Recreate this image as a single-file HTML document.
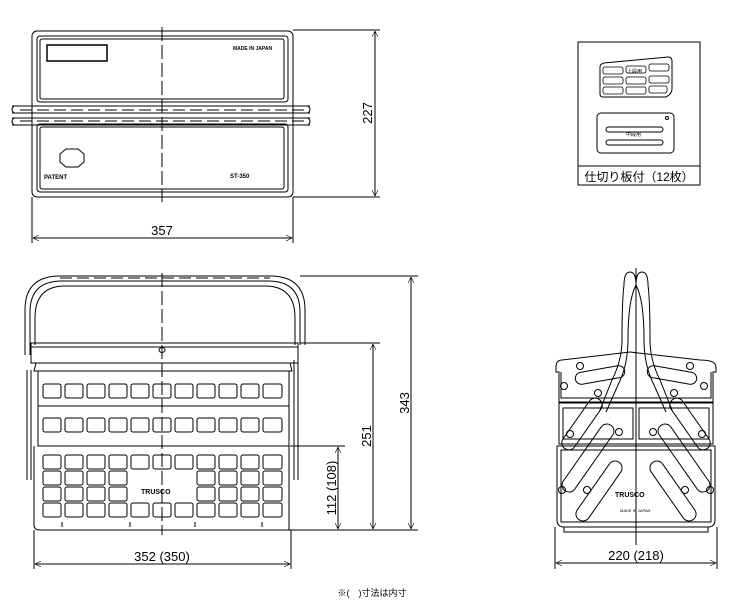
<!DOCTYPE html>
<html><head><meta charset="utf-8"><style>
html,body{margin:0;padding:0;background:#fff;}
svg{display:block;}
text{font-family:"Liberation Sans","Noto Sans CJK JP",sans-serif;fill:#000;}
</style></head><body>
<svg width="748" height="608" viewBox="0 0 748 608" xmlns="http://www.w3.org/2000/svg">
<defs>
<marker id="a" viewBox="0 0 10 10" refX="10" refY="5" markerWidth="10" markerHeight="6" orient="auto-start-reverse" markerUnits="userSpaceOnUse"><path d="M0,0 L10,5 L0,10" fill="none" stroke="#000" stroke-width="1"/></marker>
</defs>
<g fill="none" stroke="#000" stroke-width="1">
<!-- TOP VIEW -->
<rect x="32" y="31" width="261" height="166" rx="5"/>
<rect x="37" y="36" width="251" height="66" rx="3"/>
<rect x="40" y="39" width="244" height="60" rx="2"/>
<rect x="47" y="45" width="60" height="16" stroke-width="1.5"/>
<rect x="37" y="124" width="251" height="68" rx="3"/>
<rect x="40" y="127" width="244" height="62" rx="2"/>
<path d="M12,106 H310 M12,113 H310 M12,118 H310 M12,125 H310"/>
<path d="M14,106 Q10,109.5 14,113 M14,118 Q10,121.5 14,125 M308,106 Q312,109.5 308,113 M308,118 Q312,121.5 308,125"/>
<path d="M20,110 H304 M20,121 H304" stroke-dasharray="12,5"/>
<path d="M60,154 l6,-5 h12 l6,5 v8 l-6,5 h-12 l-6,-5z"/>
<path d="M162,27 V202" stroke-dasharray="14,4"/>
<path d="M293,30 H380 M293,197 H380"/>
<line x1="375" y1="31" x2="375" y2="196" marker-start="url(#a)" marker-end="url(#a)"/>
<path d="M32,197 V243 M293,197 V243"/>
<line x1="33" y1="238" x2="292" y2="238" marker-start="url(#a)" marker-end="url(#a)"/>

<!-- INSET -->
<rect x="578" y="42" width="122" height="143"/>
<line x1="578" y1="166" x2="700" y2="166"/>
<path d="M600,67 Q600,64 604,63 L668,57 Q672,57 672,61 V89 Q672,94 666,97 H603 Q600,97 600,94Z"/>
<g stroke-width="0.8">
<rect x="603" y="67" width="20" height="7" rx="2"/><rect x="626" y="66" width="20" height="7" rx="2"/><rect x="649" y="64" width="20" height="7" rx="2"/>
<rect x="603" y="77" width="20" height="7" rx="2"/><rect x="626" y="77" width="20" height="7" rx="2"/><rect x="649" y="76" width="20" height="7" rx="2"/>
<rect x="603" y="87" width="20" height="7" rx="2"/><rect x="626" y="87" width="20" height="7" rx="2"/><rect x="649" y="86" width="18" height="7" rx="2"/>
</g>
<rect x="597" y="113" width="77" height="40" rx="4"/>
<rect x="606" y="127" width="57" height="5" rx="2.5"/>
<rect x="606" y="140" width="57" height="5" rx="2.5"/>
<circle cx="667" cy="118" r="1.5"/>

<!-- FRONT VIEW -->
<path d="M25,355 V310 Q25,276 60,276 H270 Q305,276 305,310 V345"/>
<path d="M30,355 V312 Q30,281 62,281 H268 Q300,281 300,312 V345"/>
<path d="M35,345 V318 Q35,286 65,286 H265 Q295,286 295,318 V345"/>
<path d="M60,278 H270" stroke-dasharray="12,5"/>
<rect x="31" y="343" width="267" height="20"/>
<path d="M31,347 H298"/>
<path d="M36,363 L34,371 H292 L290,363"/>
<rect x="38" y="371" width="251" height="35"/>
<rect x="38" y="406" width="251" height="40"/>
<path d="M34,446 V525 Q34,530 40,530 H289 V446"/>
<path d="M27,370 V480 M31,370 V480 M294,360 V480 M298,360 V480"/>
<g stroke-width="1">
<rect x="43" y="384" width="18" height="14" rx="2"/><rect x="65" y="384" width="18" height="14" rx="2"/><rect x="87" y="384" width="18" height="14" rx="2"/><rect x="109" y="384" width="18" height="14" rx="2"/><rect x="131" y="384" width="18" height="14" rx="2"/><rect x="153" y="384" width="18" height="14" rx="2"/><rect x="175" y="384" width="18" height="14" rx="2"/><rect x="197" y="384" width="18" height="14" rx="2"/><rect x="219" y="384" width="18" height="14" rx="2"/><rect x="241" y="384" width="18" height="14" rx="2"/><rect x="263" y="384" width="19" height="14" rx="2"/>
<rect x="43" y="418" width="18" height="14" rx="2"/><rect x="65" y="418" width="18" height="14" rx="2"/><rect x="87" y="418" width="18" height="14" rx="2"/><rect x="109" y="418" width="18" height="14" rx="2"/><rect x="131" y="418" width="18" height="14" rx="2"/><rect x="153" y="418" width="18" height="14" rx="2"/><rect x="175" y="418" width="18" height="14" rx="2"/><rect x="197" y="418" width="18" height="14" rx="2"/><rect x="219" y="418" width="18" height="14" rx="2"/><rect x="241" y="418" width="18" height="14" rx="2"/><rect x="263" y="418" width="19" height="14" rx="2"/>
<rect x="43" y="455" width="18" height="14" rx="2"/><rect x="65" y="455" width="18" height="14" rx="2"/><rect x="87" y="455" width="18" height="14" rx="2"/><rect x="109" y="455" width="18" height="14" rx="2"/><rect x="131" y="455" width="18" height="14" rx="2"/><rect x="153" y="455" width="18" height="14" rx="2"/><rect x="175" y="455" width="18" height="14" rx="2"/><rect x="197" y="455" width="18" height="14" rx="2"/><rect x="219" y="455" width="18" height="14" rx="2"/><rect x="241" y="455" width="18" height="14" rx="2"/><rect x="263" y="455" width="19" height="14" rx="2"/>
<rect x="43" y="471" width="18" height="14" rx="2"/><rect x="65" y="471" width="18" height="14" rx="2"/><rect x="87" y="471" width="18" height="14" rx="2"/><rect x="109" y="471" width="18" height="14" rx="2"/><rect x="197" y="471" width="18" height="14" rx="2"/><rect x="219" y="471" width="18" height="14" rx="2"/><rect x="241" y="471" width="18" height="14" rx="2"/><rect x="263" y="471" width="19" height="14" rx="2"/>
<rect x="43" y="487" width="18" height="14" rx="2"/><rect x="65" y="487" width="18" height="14" rx="2"/><rect x="87" y="487" width="18" height="14" rx="2"/><rect x="109" y="487" width="18" height="14" rx="2"/><rect x="197" y="487" width="18" height="14" rx="2"/><rect x="219" y="487" width="18" height="14" rx="2"/><rect x="241" y="487" width="18" height="14" rx="2"/><rect x="263" y="487" width="19" height="14" rx="2"/>
<rect x="43" y="503" width="18" height="14" rx="2"/><rect x="65" y="503" width="18" height="14" rx="2"/><rect x="87" y="503" width="18" height="14" rx="2"/><rect x="109" y="503" width="18" height="14" rx="2"/><rect x="131" y="503" width="18" height="14" rx="2"/><rect x="153" y="503" width="18" height="14" rx="2"/><rect x="175" y="503" width="18" height="14" rx="2"/><rect x="197" y="503" width="18" height="14" rx="2"/><rect x="219" y="503" width="18" height="14" rx="2"/><rect x="241" y="503" width="18" height="14" rx="2"/><rect x="263" y="503" width="19" height="14" rx="2"/>
</g>
<ellipse cx="162" cy="350" rx="3" ry="2.5"/>
<path d="M162,273 V535" stroke-dasharray="14,4"/>
<path d="M62,522 v5 M130,522 v5 M195,522 v5 M262,522 v5"/>
<path d="M300,276 H418 M300,343 H380 M290,446 H345 M270,530 H418"/>
<line x1="411" y1="277" x2="411" y2="529" marker-start="url(#a)" marker-end="url(#a)"/>
<line x1="373" y1="344" x2="373" y2="529" marker-start="url(#a)" marker-end="url(#a)"/>
<line x1="338" y1="447" x2="338" y2="529" marker-start="url(#a)" marker-end="url(#a)"/>
<path d="M34,530 V569 M291,530 V569"/>
<line x1="35" y1="564" x2="290" y2="564" marker-start="url(#a)" marker-end="url(#a)"/>

<!-- SIDE VIEW -->
<path d="M556,367 Q556,360 562,360 L630,352 L700,360 Q716,360 716,367 V372 H713 V402 H559 V372 H556Z"/>
<path d="M561,372 V398 H711 V372"/>
<path d="M559,403 H713 V444 H559Z"/>
<rect x="563" y="408" width="70" height="31"/><rect x="639" y="408" width="70" height="31"/>
<path d="M557,446 H715 V520 Q715,527 708,527 H564 Q557,527 557,520Z"/>
<rect x="561" y="450" width="150" height="72"/>
<path d="M564,527 V532 H708 V527"/>
<path d="M624,285 Q624,272 630,272 Q636,272 636,285 M636,285 Q636,272 642,272 Q648,272 648,285"/>
<path d="M624,285 Q622,300 622,340 Q622,360 612,380 L600,410 M636,285 Q628,300 628,340 Q628,365 618,385 L606,412"/>
<path d="M648,285 Q650,300 650,340 Q650,360 660,380 L672,410 M636,285 Q644,300 644,340 Q644,365 654,385 L666,412"/>
<path d="M636,268 V545"/>
<g stroke-width="1">
<rect x="-7" y="-30" width="14" height="60" rx="7" transform="translate(582,424) rotate(35)"/>
<rect x="-7" y="-40" width="14" height="80" rx="7" transform="translate(588,458) rotate(35)"/>
<rect x="-7" y="-35" width="14" height="70" rx="7" transform="translate(599,491) rotate(35)"/>
<rect x="-7" y="-30" width="14" height="60" rx="7" transform="translate(690,424) rotate(-35)"/>
<rect x="-7" y="-40" width="14" height="80" rx="7" transform="translate(684,458) rotate(-35)"/>
<rect x="-7" y="-35" width="14" height="70" rx="7" transform="translate(673,491) rotate(-35)"/>
<rect x="-6" y="-25" width="12" height="50" rx="6" transform="translate(600,375) rotate(80)"/>
<rect x="-6" y="-25" width="12" height="50" rx="6" transform="translate(672,375) rotate(-80)"/>
</g>
<g>
<circle cx="580" cy="366" r="3.5"/><circle cx="690" cy="366" r="3.5"/>
<circle cx="564" cy="386" r="3.5"/><circle cx="704" cy="386" r="3.5"/>
<circle cx="598" cy="393" r="3.5"/><circle cx="674" cy="393" r="3.5"/>
<circle cx="570" cy="434" r="3.5"/><circle cx="702" cy="434" r="3.5"/>
<circle cx="562" cy="490" r="3.5"/><circle cx="710" cy="490" r="3.5"/>
<circle cx="587" cy="490" r="3.5"/><circle cx="685" cy="490" r="3.5"/>
<circle cx="619" cy="432" r="3.5"/><circle cx="653" cy="432" r="3.5"/>
</g>
<path d="M555,527 V569 M717,527 V569"/>
<line x1="556" y1="563" x2="716" y2="563" marker-start="url(#a)" marker-end="url(#a)"/>
</g>

<!-- Text -->
<text x="233" y="50" font-size="5" font-weight="bold">MADE IN JAPAN</text>
<text x="44" y="179" font-size="6" font-weight="bold">PATENT</text>
<text x="230" y="178" font-size="6" font-weight="bold">ST-350</text>
<text x="141" y="494" font-size="7" font-weight="bold">TRUSCO</text>
<text x="615" y="497" font-size="7" font-weight="bold">TRUSCO</text>
<text x="620" y="512" font-size="4">MADE IN JAPAN</text>
<text x="627" y="73" font-size="5">上段用</text>
<text x="626" y="136" font-size="5">中段用</text>
<text x="162" y="235" font-size="13" text-anchor="middle">357</text>
<text x="0" y="0" font-size="13" text-anchor="middle" transform="translate(372,113) rotate(-90)">227</text>
<text x="0" y="0" font-size="13" text-anchor="middle" transform="translate(409,403) rotate(-90)">343</text>
<text x="0" y="0" font-size="13" text-anchor="middle" transform="translate(371,436) rotate(-90)">251</text>
<text x="0" y="0" font-size="13" text-anchor="middle" transform="translate(336,488) rotate(-90)">112 (108)</text>
<text x="162" y="561" font-size="13" text-anchor="middle">352 (350)</text>
<text x="636" y="560" font-size="13" text-anchor="middle">220 (218)</text>
<text x="639" y="181" font-size="12" text-anchor="middle">仕切り板付（12枚）</text>
<text x="372" y="596" font-size="9" text-anchor="middle">※(　)寸法は内寸</text>
</svg>
</body></html>
